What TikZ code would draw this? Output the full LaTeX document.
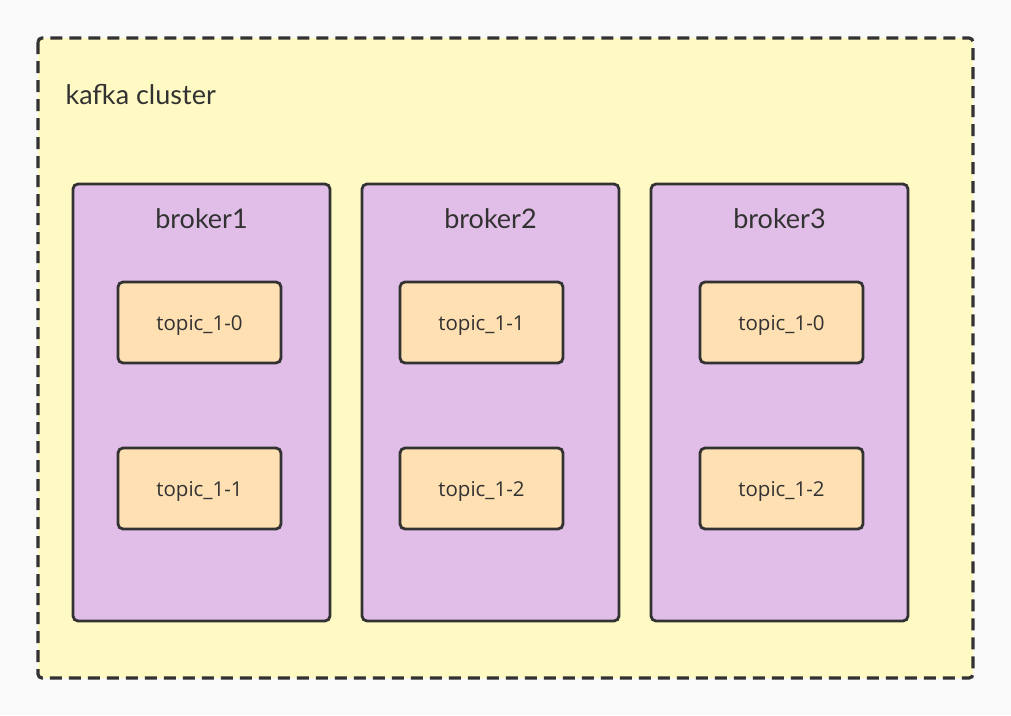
\documentclass[tikz,border=0pt]{standalone}
\usepackage{fontspec}
\setmainfont{Open Sans}
\newfontfamily\handfont{Lato}
\usetikzlibrary{positioning}
\definecolor{bgray}{HTML}{F9F9F9}
\definecolor{clusterfill}{HTML}{FFF9C4}
\definecolor{brokerfill}{HTML}{E1BEE7}
\definecolor{topicfill}{HTML}{FFE0B2}
\definecolor{edge}{HTML}{323232}
\tikzset{
  cluster/.style={draw=edge, fill=clusterfill, line width=3.2pt, dash pattern=on 12pt off 7pt, rounded corners=4pt},
  broker/.style={draw=edge, fill=brokerfill, line width=2.8pt, rounded corners=5pt, minimum width=257pt, minimum height=437pt, inner sep=0pt},
  topicbox/.style={draw=edge, fill=topicfill, line width=2.8pt, rounded corners=5pt, minimum width=163pt, minimum height=81pt, inner sep=0pt, text depth=0pt, font=\fontsize{20.5}{24}\selectfont, text=edge},
  title/.style={font=\handfont\fontsize{27}{31}\selectfont, text=edge}
}
\begin{document}
\begin{tikzpicture}[x=1pt, y=-1pt]
\fill[bgray] (0,0) rectangle (1011,715);
\useasboundingbox (0,0) rectangle (1011,715);
%cluster
\draw[cluster] (38,38) rectangle (973,678);
\node[title, anchor=west] (cluster) at (62,95) {kafka cluster};
%brokers
\foreach \n/\x in {1/201.5, 2/490.5, 3/779.5} {
  \node[broker] (broker\n) at (\x, 402.5) {};
  \node[title] (blabel\n) at (\x, 219) {broker\n};
}
%topics
\foreach \n/\x/\a/\b in {1/199.5/0/1, 2/481.5/1/2, 3/781.5/0/2} {
  \node[topicbox] (topic\n a) at (\x, 322.5) {topic\_1-\a};
  \node[topicbox] (topic\n b) at (\x, 488.5) {topic\_1-\b};
}
\end{tikzpicture}
\end{document}
